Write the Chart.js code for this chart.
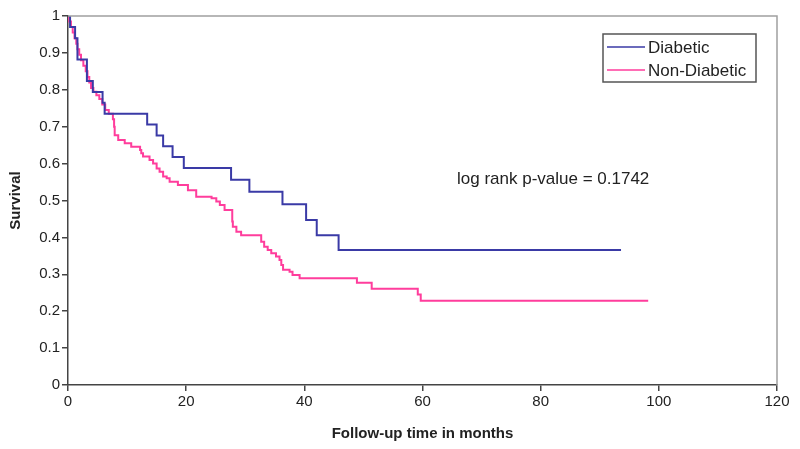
<!DOCTYPE html>
<html><head><meta charset="utf-8">
<script src="https://cdn.jsdelivr.net/npm/chart.js@4/dist/chart.umd.min.js"></script>
<style>html,body{margin:0;padding:0;background:#fff}#wrap{width:800px;height:449px;position:relative}</style>
</head><body><div id="wrap"><canvas id="c"></canvas></div>
<script>
// Kaplan-Meier steps: time (months) at which survival drops to the given value
const diabeticTime = [0, 0.35, 1.2, 1.6, 3.2, 4.2, 5.85, 6.2, 13.4, 15.0, 16.1, 17.7, 19.6, 27.6, 30.7, 36.3, 40.3, 42.1, 45.8, 93.6];
const diabeticSurvival = [1, 0.97, 0.94, 0.882, 0.824, 0.794, 0.765, 0.735, 0.706, 0.676, 0.647, 0.618, 0.588, 0.556, 0.524, 0.49, 0.447, 0.406, 0.366, 0.366];

const nonDiabeticTime = [0, 0.2, 0.5, 0.8, 1.1, 1.4, 1.6, 1.9, 2.2, 2.6, 3.0, 3.3, 3.6, 3.9, 4.3, 4.8, 5.3, 5.8, 6.3, 6.9, 7.6, 7.8, 7.9, 8.5, 9.6, 10.7, 12.2, 12.4, 12.7, 13.8, 14.4, 15.0, 15.5, 16.1, 16.7, 17.2, 18.6, 20.3, 21.7, 24.3, 25.1, 25.7, 26.5, 27.8, 27.9, 28.5, 29.3, 32.7, 33.2, 33.8, 34.4, 35.2, 35.8, 36.1, 36.4, 37.5, 38.0, 39.2, 48.9, 51.4, 59.2, 59.7, 98.2];
const nonDiabeticSurvival = [1, 0.985, 0.97, 0.955, 0.94, 0.925, 0.91, 0.895, 0.88, 0.865, 0.85, 0.835, 0.82, 0.805, 0.795, 0.785, 0.775, 0.76, 0.745, 0.735, 0.72, 0.7, 0.677, 0.664, 0.655, 0.646, 0.637, 0.628, 0.619, 0.61, 0.6, 0.587, 0.578, 0.565, 0.56, 0.551, 0.542, 0.528, 0.51, 0.506, 0.497, 0.488, 0.474, 0.443, 0.429, 0.415, 0.406, 0.388, 0.375, 0.366, 0.357, 0.348, 0.339, 0.325, 0.312, 0.307, 0.298, 0.289, 0.277, 0.261, 0.245, 0.228, 0.228];

const seriesNames = ['Diabetic', 'Non-Diabetic'];
const seriesColors = ['#3a3aa6', '#ff3d9c'];
const xTickValues = [0, 20, 40, 60, 80, 100, 120];
const yTickValues = [0, 0.1, 0.2, 0.3, 0.4, 0.5, 0.6, 0.7, 0.8, 0.9, 1];
const annotationText = 'log rank p-value = 0.1742';
const xTitle = 'Follow-up time in months';
const yTitle = 'Survival';

const toPoints = (t, s) => t.map((x, i) => ({x: x, y: s[i]}));

const framePlugin = {
  id: 'frame',
  afterDraw(chart) {
    const {ctx, chartArea: a} = chart;
    ctx.save();
    ctx.strokeStyle = '#a0a0a0';
    ctx.lineWidth = 1.5;
    ctx.beginPath();
    ctx.moveTo(a.left, a.top);
    ctx.lineTo(a.right, a.top);
    ctx.lineTo(a.right, a.bottom);
    ctx.stroke();
    ctx.restore();
  }
};

const legendBoxPlugin = {
  id: 'legendBox',
  afterDraw(chart) {
    const ctx = chart.ctx;
    ctx.save();
    ctx.strokeStyle = '#555';
    ctx.lineWidth = 1.5;
    ctx.strokeRect(603, 34, 153, 48);
    ctx.font = '17px "Liberation Sans", Arial, sans-serif';
    ctx.textBaseline = 'middle';
    ctx.fillStyle = '#222';
    chart.data.datasets.forEach((ds, i) => {
      const y = 47 + i * 23;
      ctx.strokeStyle = ds.borderColor;
      ctx.lineWidth = 1.5;
      ctx.beginPath();
      ctx.moveTo(607, y);
      ctx.lineTo(645, y);
      ctx.stroke();
      ctx.fillText(ds.label, 648, y + 1);
    });
    // annotation
    ctx.fillStyle = '#222';
    ctx.textAlign = 'left';
    ctx.fillText(annotationText, 457, 179);
    ctx.restore();
  }
};

new Chart(document.getElementById('c'), {
  type: 'line',
  data: {
    datasets: [
      {label: seriesNames[0], data: toPoints(diabeticTime, diabeticSurvival), borderColor: seriesColors[0], backgroundColor: seriesColors[0], borderWidth: 2, stepped: 'before', pointRadius: 0, fill: false},
      {label: seriesNames[1], data: toPoints(nonDiabeticTime, nonDiabeticSurvival), borderColor: seriesColors[1], backgroundColor: seriesColors[1], borderWidth: 2, stepped: 'before', pointRadius: 0, fill: false}
    ]
  },
  options: {
    responsive: true,
    maintainAspectRatio: false,
    animation: false,
    devicePixelRatio: 1,
    layout: {padding: {left: 0, top: 16, right: 23, bottom: 0}},
    plugins: {legend: {display: false}, tooltip: {enabled: false}},
    scales: {
      x: {
        type: 'linear', min: 0, max: 120,
        afterBuildTicks: s => { s.ticks = xTickValues.map(v => ({value: v})); },
        afterFit: s => { s.height = 64; },
        ticks: {font: {family: '"Liberation Sans", Arial, sans-serif', size: 15}, color: '#222', padding: 2, maxRotation: 0},
        grid: {drawOnChartArea: false, drawTicks: true, tickLength: 6, color: '#444', lineWidth: 1.5},
        border: {color: '#444', width: 1.5},
        title: {display: true, text: xTitle, font: {family: '"Liberation Sans", Arial, sans-serif', size: 15, weight: 'bold'}, color: '#222', padding: {top: 6, bottom: 6}}
      },
      y: {
        type: 'linear', min: 0, max: 1,
        afterBuildTicks: s => { s.ticks = yTickValues.map(v => ({value: v})); },
        afterFit: s => { s.width = 68; },
        ticks: {font: {family: '"Liberation Sans", Arial, sans-serif', size: 15}, color: '#222', padding: 2, callback: v => String(parseFloat(v.toFixed(1)))},
        grid: {drawOnChartArea: false, drawTicks: true, tickLength: 6, color: '#444', lineWidth: 1.5},
        border: {color: '#444', width: 1.5},
        title: {display: true, text: yTitle, font: {family: '"Liberation Sans", Arial, sans-serif', size: 15, weight: 'bold'}, color: '#222', padding: {top: 7, bottom: 4}}
      }
    }
  },
  plugins: [framePlugin, legendBoxPlugin]
});
</script>
</body></html>
